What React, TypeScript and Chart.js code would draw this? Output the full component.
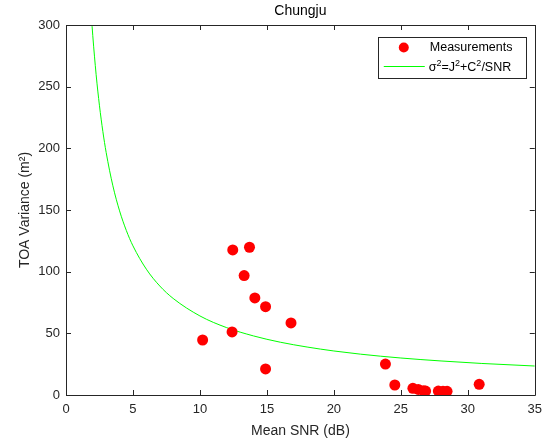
import React, { useEffect, useRef } from "react";
import { Chart, registerables } from "chart.js";

Chart.register(...registerables);

const chartTitle = "Chungju";
const xTitle = "Mean SNR (dB)";
const yTitle = "TOA Variance (m²)";
const measLabel = "Measurements";
const fitLabel = "σ²=J²+C²/SNR";

const measSNR = [10.2, 12.4, 12.45, 13.7, 13.3, 14.1, 14.9, 16.8, 14.9, 23.85, 24.55, 25.9, 26.3, 26.7, 26.85, 27.8, 28.15, 28.45, 30.85];
const measVar = [44.6, 51.1, 117.6, 119.8, 96.8, 78.7, 71.6, 58.4, 21.1, 25.1, 8.1, 5.4, 4.5, 3.5, 3.2, 3.2, 3.0, 3.0, 8.7];

// Fitted curve
const fitSNR = [1.9, 2, 2.25, 2.5, 2.75, 3, 3.5, 4, 4.5, 5, 6, 7, 8, 10, 12, 14, 16, 18, 20, 22, 25, 28, 31, 35];
const fitVar = [306.3, 291.3, 259.7, 234.5, 213.8, 196.6, 169.6, 149.3, 133.5, 120.9, 102.0, 88.4, 78.3, 64.1, 54.6, 47.9, 42.8, 38.9, 35.7, 33.1, 30.0, 27.6, 25.6, 23.5];

const xTickValues = [0, 5, 10, 15, 20, 25, 30, 35];
const yTickValues = [0, 50, 100, 150, 200, 250, 300];

const FONT = "'Liberation Sans', Arial, Helvetica, sans-serif";
const AXIS_COLOR = "#262626";

function drawSupText(ctx: any, text: string, x: number, y: number, size: number) {
  let cx = x;
  let buf = "";
  const flush = () => {
    if (!buf) return;
    ctx.font = `${size}px ${FONT}`;
    ctx.fillText(buf, cx, y);
    cx += ctx.measureText(buf).width;
    buf = "";
  };
  for (const ch of text) {
    if (ch === "²") {
      flush();
      ctx.font = `${size * 0.72}px ${FONT}`;
      ctx.fillText("2", cx, y - size * 0.38);
      cx += ctx.measureText("2").width;
    } else {
      buf += ch;
    }
  }
  flush();
}

const decorPlugin = {
  id: "decor",
  afterDraw(chart: any) {
    const { ctx, chartArea: a, scales } = chart;
    ctx.save();
    // box
    ctx.strokeStyle = AXIS_COLOR;
    ctx.lineWidth = 1;
    ctx.beginPath();
    ctx.rect(Math.round(a.left) + 0.5, Math.round(a.top) + 0.5, Math.round(a.right - a.left), Math.round(a.bottom - a.top));
    ctx.stroke();
    // inward ticks
    const tl = 5;
    ctx.beginPath();
    for (const v of xTickValues) {
      const px = Math.round(scales.x.getPixelForValue(v)) + 0.5;
      ctx.moveTo(px, a.bottom);
      ctx.lineTo(px, a.bottom - tl);
      ctx.moveTo(px, a.top);
      ctx.lineTo(px, a.top + tl);
    }
    for (const v of yTickValues) {
      const py = Math.round(scales.y.getPixelForValue(v)) + 0.5;
      ctx.moveTo(a.left, py);
      ctx.lineTo(a.left + tl, py);
      ctx.moveTo(a.right, py);
      ctx.lineTo(a.right - tl, py);
    }
    ctx.stroke();
    // title
    ctx.fillStyle = "#000";
    ctx.font = `14px ${FONT}`;
    ctx.textAlign = "center";
    ctx.textBaseline = "middle";
    ctx.fillText(chartTitle, (a.left + a.right) / 2, 11);

    // legend
    const bx = a.right - 157;
    const by = a.top + 12;
    const bw = 148;
    const bh = 41;
    ctx.fillStyle = "#fff";
    ctx.fillRect(bx, by, bw, bh);
    ctx.strokeStyle = AXIS_COLOR;
    ctx.strokeRect(Math.round(bx) + 0.5, Math.round(by) + 0.5, bw, bh);
    const ds0 = chart.data.datasets[0];
    const ds1 = chart.data.datasets[1];
    ctx.fillStyle = ds0.backgroundColor;
    ctx.beginPath();
    ctx.arc(bx + 26, by + 10.5, 5, 0, Math.PI * 2);
    ctx.fill();
    ctx.strokeStyle = ds1.borderColor;
    ctx.lineWidth = 1;
    ctx.beginPath();
    ctx.moveTo(bx + 6, by + 29.5);
    ctx.lineTo(bx + 47, by + 29.5);
    ctx.stroke();
    ctx.fillStyle = "#000";
    ctx.font = `12.5px ${FONT}`;
    ctx.textAlign = "left";
    ctx.textBaseline = "middle";
    ctx.fillText(ds0.label, bx + 52, by + 11);
    drawSupText(ctx, ds1.label, bx + 51, by + 31, 12.5);
    ctx.restore();
  },
};

export default function App() {
  const ref = useRef<HTMLCanvasElement | null>(null);
  useEffect(() => {
    document.body.style.margin = "0";
    const canvas = ref.current!;
    const chart = new Chart(canvas, {
      type: "scatter",
      data: {
        datasets: [
          {
            label: measLabel,
            data: measSNR.map((x, i) => ({ x, y: measVar[i] })),
            backgroundColor: "#ff0000",
            borderWidth: 0,
            pointRadius: 5.5,
            showLine: false,
            order: 1,
          },
          {
            label: fitLabel,
            data: fitSNR.map((x, i) => ({ x, y: fitVar[i] })),
            borderColor: "#00ff00",
            backgroundColor: "#00ff00",
            borderWidth: 1,
            pointRadius: 0,
            showLine: true,
            cubicInterpolationMode: "monotone",
            order: 2,
          } as any,
        ],
      },
      options: {
        animation: false,
        responsive: false,
        maintainAspectRatio: false,
        events: [],
        layout: { padding: { left: 0, right: 14, top: 25, bottom: 0 } },
        plugins: {
          legend: { display: false },
          tooltip: { enabled: false },
          title: { display: false },
        },
        scales: {
          x: {
            type: "linear",
            min: 0,
            max: 35,
            afterFit: (s: any) => {
              s.height = 49;
            },
            afterBuildTicks: (s: any) => {
              s.ticks = xTickValues.map((v) => ({ value: v }));
            },
            grid: { display: false, drawTicks: false },
            border: { display: false },
            ticks: { color: AXIS_COLOR, font: { family: FONT, size: 13 }, padding: 7, maxRotation: 0 },
            title: { display: true, text: xTitle, color: AXIS_COLOR, font: { family: FONT, size: 14 }, padding: { top: 0, bottom: 4 } },
          },
          y: {
            type: "linear",
            min: 0,
            max: 300,
            afterFit: (s: any) => {
              s.width = 66;
            },
            afterBuildTicks: (s: any) => {
              s.ticks = yTickValues.map((v) => ({ value: v }));
            },
            grid: { display: false, drawTicks: false },
            border: { display: false },
            ticks: { color: AXIS_COLOR, font: { family: FONT, size: 13 }, padding: 6 },
            title: { display: true, text: yTitle, color: AXIS_COLOR, font: { family: FONT, size: 14 }, padding: { top: 17, bottom: 0 } },
          },
        },
      },
      plugins: [decorPlugin],
    });
    return () => chart.destroy();
  }, []);
  return <canvas ref={ref} width={549} height={444} style={{ display: "block" }} />;
}
